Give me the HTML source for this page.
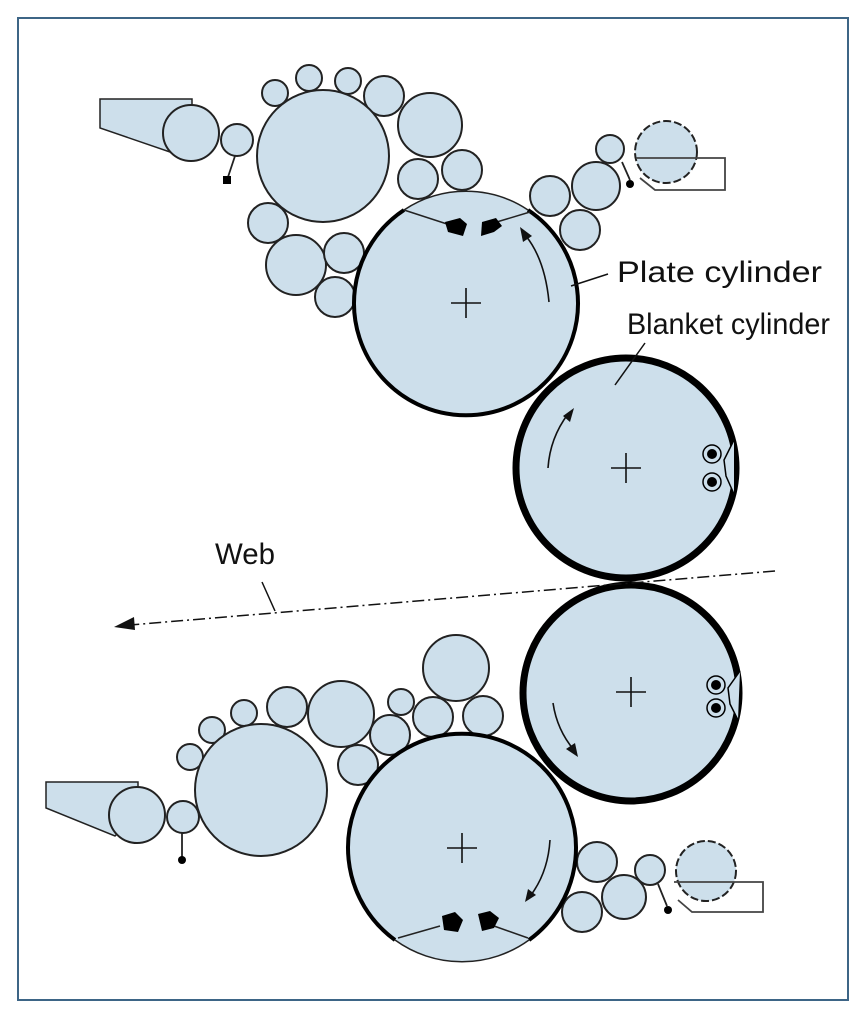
<!DOCTYPE html>
<html><head><meta charset="utf-8"><style>
html,body{margin:0;padding:0;background:#fff}
svg{display:block}
text{font-family:"Liberation Sans",sans-serif;font-size:30px;fill:#111}
</style></head><body>
<svg width="866" height="1017" viewBox="0 0 866 1017" xmlns="http://www.w3.org/2000/svg">
<rect x="18" y="18" width="830" height="982" fill="#fff" stroke="#3d6586" stroke-width="2"/>
<g fill="#cddfeb" stroke="#222" stroke-width="2">
<polygon points="100,99 192,99 192,130 170,152 100,128" stroke-width="1.5"/>
<circle cx="191" cy="133" r="28"/>
<circle cx="237" cy="140" r="16"/>
<circle cx="275" cy="93" r="13"/>
<circle cx="309" cy="78" r="13"/>
<circle cx="348" cy="81" r="13"/>
<circle cx="384" cy="96" r="20"/>
<circle cx="430" cy="125" r="32"/>
<circle cx="418" cy="179" r="20"/>
<circle cx="462" cy="170" r="20"/>
<circle cx="323" cy="156" r="66"/>
<circle cx="268" cy="223" r="20"/>
<circle cx="296" cy="265" r="30"/>
<circle cx="344" cy="253" r="20"/>
<circle cx="335" cy="297" r="20"/>
<circle cx="550" cy="196" r="20"/>
<circle cx="580" cy="230" r="20"/>
<circle cx="596" cy="186" r="24"/>
<circle cx="610" cy="149" r="14"/>
<circle cx="666" cy="152" r="31" stroke-dasharray="8,3"/>
<polygon points="46,782 138,782 138,812 115,836 46,808" stroke-width="1.5"/>
<circle cx="137" cy="815" r="28"/>
<circle cx="183" cy="817" r="16"/>
<circle cx="190" cy="757" r="13"/>
<circle cx="212" cy="730" r="13"/>
<circle cx="244" cy="713" r="13"/>
<circle cx="287" cy="707" r="20"/>
<circle cx="341" cy="714" r="33"/>
<circle cx="401" cy="702" r="13"/>
<circle cx="456" cy="668" r="33"/>
<circle cx="433" cy="717" r="20"/>
<circle cx="483" cy="716" r="20"/>
<circle cx="390" cy="735" r="20"/>
<circle cx="358" cy="765" r="20"/>
<circle cx="261" cy="790" r="66"/>
<circle cx="597" cy="862" r="20"/>
<circle cx="582" cy="912" r="20"/>
<circle cx="624" cy="897" r="22"/>
<circle cx="650" cy="870" r="15"/>
<circle cx="706" cy="871" r="30" stroke-dasharray="8,3"/>
</g>
<g fill="none" stroke="#444" stroke-width="1.8">
<path d="M636,158 H725 V190 H655 L640,178"/>
<path d="M674,882 H763 V912 H692 L678,900"/>
</g>
<g stroke="#222" stroke-width="1.8" fill="none">
<line x1="235" y1="156" x2="228" y2="177"/>
<line x1="182" y1="833" x2="182" y2="858"/>
<line x1="622" y1="162" x2="630" y2="180"/>
<line x1="658" y1="884" x2="667" y2="906"/>
</g>
<rect x="223" y="176" width="8" height="8" fill="#000"/>
<circle cx="182" cy="860" r="4" fill="#000"/>
<circle cx="630" cy="184" r="4" fill="#000"/>
<circle cx="668" cy="910" r="4" fill="#000"/>
<circle cx="466" cy="303" r="112" fill="#cddfeb" stroke="none"/>
<path d="M528,210 A112,112 0 1 1 404,210" fill="none" stroke="#000" stroke-width="4"/>
<path d="M404,210 A112,112 0 0 1 528,210" fill="none" stroke="#222" stroke-width="1.5"/>
<path d="M404,210 L447,224 M530,212 L490,224" stroke="#222" stroke-width="1.5" fill="none"/>
<polygon points="445,222 460,218 467,224 463,236 448,232" fill="#000"/>
<polygon points="482,222 496,218 502,226 494,232 481,236" fill="#000"/>
<circle cx="626" cy="468" r="110" fill="#cddfeb" stroke="#000" stroke-width="7"/>
<circle cx="631" cy="693" r="108" fill="#cddfeb" stroke="#000" stroke-width="7"/>
<circle cx="462" cy="848" r="114" fill="#cddfeb" stroke="none"/>
<path d="M395,940 A114,114 0 1 1 529,940" fill="none" stroke="#000" stroke-width="4"/>
<path d="M395,940 A114,114 0 0 0 529,940" fill="none" stroke="#222" stroke-width="1.5"/>
<path d="M398,938 L440,926 M528,938 L494,926" stroke="#222" stroke-width="1.5" fill="none"/>
<polygon points="442,916 455,912 463,920 458,932 444,930" fill="#000"/>
<polygon points="478,914 490,911 499,918 494,928 482,931" fill="#000"/>
<g stroke="#000" stroke-width="1.5" fill="#cddfeb">
<circle cx="712" cy="454" r="9"/><circle cx="712" cy="482" r="9"/>
<circle cx="716" cy="685" r="9"/><circle cx="716" cy="708" r="9"/>
</g>
<g fill="#000">
<circle cx="712" cy="454" r="5"/><circle cx="712" cy="482" r="5"/>
<circle cx="716" cy="685" r="5"/><circle cx="716" cy="708" r="5"/>
</g>
<g stroke="#000" stroke-width="1.5" fill="#cddfeb">
<path d="M734,440 L724,460 L726,476 L734,494"/>
<path d="M740,671 L728,688 L730,704 L738,720"/>
</g>
<g stroke="#111" stroke-width="1.6">
<path d="M451,303 H481 M466,288 V318"/>
<path d="M611,468 H641 M626,453 V483"/>
<path d="M616,692 H646 M631,677 V707"/>
<path d="M447,848 H477 M462,833 V863"/>
</g>
<g stroke="#111" stroke-width="1.6" fill="none">
<path d="M549,302 Q545,260 526,236"/>
<path d="M548,468 Q550,438 568,414"/>
<path d="M553,703 Q557,730 574,750"/>
<path d="M550,840 Q548,872 531,895"/>
</g>
<g fill="#111">
<polygon points="520,227 532,236 523,242"/>
<polygon points="574,408 570,422 563,416"/>
<polygon points="578,757 566,749 575,743"/>
<polygon points="525,902 528,889 536,895"/>
</g>
<text x="617" y="282" textLength="205" lengthAdjust="spacingAndGlyphs">Plate cylinder</text>
<text x="627" y="334" textLength="203" lengthAdjust="spacingAndGlyphs">Blanket cylinder</text>
<text x="215" y="564" textLength="60" lengthAdjust="spacingAndGlyphs">Web</text>
<g stroke="#111" stroke-width="1.5">
<line x1="608" y1="274" x2="571" y2="286"/>
<line x1="645" y1="343" x2="615" y2="385"/>
<line x1="262" y1="582" x2="275" y2="611"/>
</g>
<line x1="775" y1="571" x2="130" y2="625" stroke="#111" stroke-width="1.5" stroke-dasharray="12,4,2,4"/>
<polygon points="114,627 134,617 135,630" fill="#111"/>
</svg>
</body></html>
